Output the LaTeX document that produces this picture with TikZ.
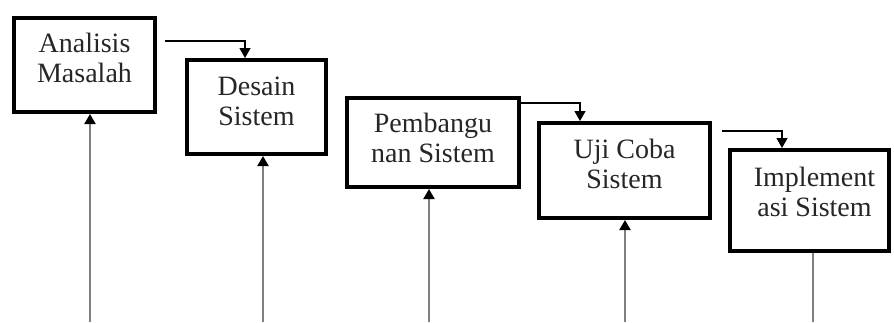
\documentclass[tikz,border=0pt]{standalone}
\usepackage{fontspec}
\setmainfont{Liberation Serif}
\usepackage{tikz}
\usetikzlibrary{positioning,arrows.meta,calc}

\begin{document}
\begin{tikzpicture}[x=1pt, y=-1pt, >={Triangle[length=10pt,width=11pt]},
  box/.style={draw, line width=4pt, inner sep=0pt},
  lbl/.style={align=center, text=black!85, font=\fontsize{28}{30}\selectfont, inner sep=0pt, anchor=north},
  feed/.style={->, line width=1.3pt},
  up/.style={-{Triangle[length=10pt,width=11pt,color=black]}, line width=2pt, draw=black!50}]
\useasboundingbox (0,0) rectangle (894,322);
% the five phases
\node[box, minimum width=141pt, minimum height=94pt] (ana) at (84.5,65) {};
\node[box, minimum width=139pt, minimum height=94pt] (des) at (256.5,107) {};
\node[box, minimum width=172pt, minimum height=89pt] (pem) at (433,142.5) {};
\node[box, minimum width=171pt, minimum height=95pt] (uji) at (624.5,170.5) {};
\node[box, minimum width=159pt, minimum height=101pt] (imp) at (809.5,200.5) {};
\node[lbl] (tana) at ([yshift=-17pt]ana.north) {Analisis\\Masalah};
\node[lbl] (tdes) at ([yshift=-19pt]des.north) {Desain\\Sistem};
\node[lbl] (tpem) at ([yshift=-17pt]pem.north) {Pembangu\\nan Sistem};
\node[lbl] (tuji) at ([yshift=-18pt]uji.north) {Uji Coba\\Sistem};
\node[lbl] (timp) at ([xshift=5pt,yshift=-19pt]imp.north) {Implement\\asi Sistem};
% steps from one phase to the next
\coordinate (s1) at (165,41);  \coordinate (e1) at (245,0);
\coordinate (s3) at (521,103); \coordinate (e3) at (580,0);
\coordinate (s4) at (722,131); \coordinate (e4) at (782,0);
\draw[feed] (s1) -| (e1 |- des.north);
\draw[feed] (s3) -| (e3 |- uji.north);
\draw[feed] (s4) -| (e4 |- imp.north);
% lines from the bottom
\coordinate (b1) at (90,322);  \coordinate (b2) at (263,322);
\coordinate (b3) at (429,322); \coordinate (b4) at (625,322);
\coordinate (b5) at (813,322);
\draw[up] (b1) -- (b1 |- ana.south);
\draw[up] (b2) -- (b2 |- des.south);
\draw[up] (b3) -- (b3 |- pem.south);
\draw[up] (b4) -- (b4 |- uji.south);
\draw[line width=2pt, draw=black!50] (b5 |- imp.south) -- (b5);
\end{tikzpicture}
\end{document}
